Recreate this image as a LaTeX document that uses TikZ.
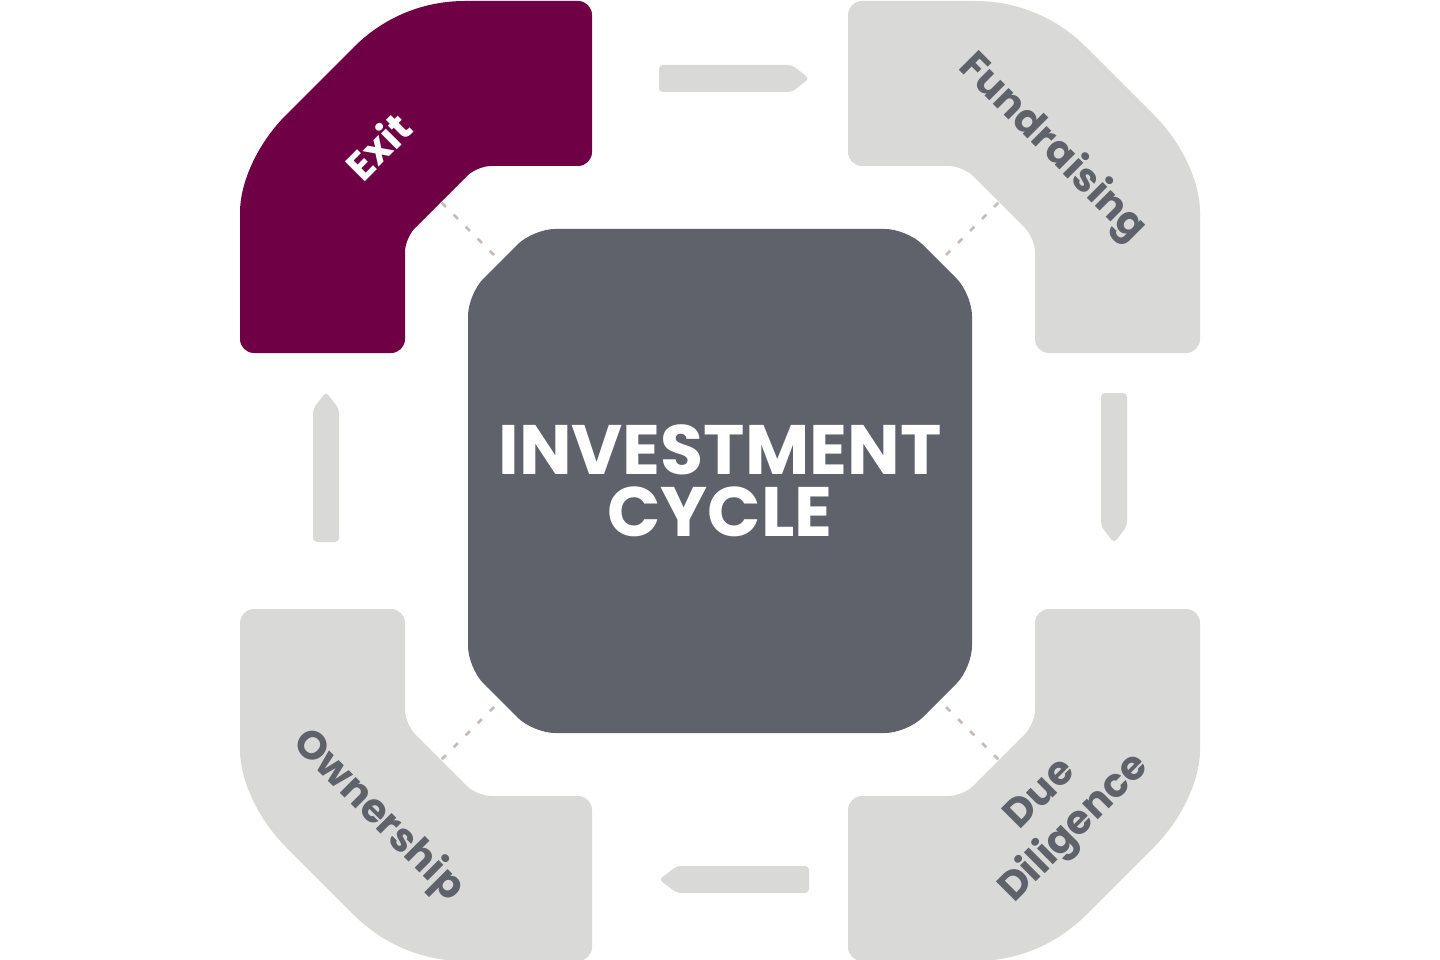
\documentclass[tikz,border=0pt]{standalone}
\usepackage{fontspec}
\setmainfont{Poppins}
\usetikzlibrary{positioning}
\definecolor{exitpurple}{RGB}{112,0,70}
\definecolor{stagegray}{RGB}{217,217,215}
\definecolor{hubgray}{RGB}{95,98,106}
\definecolor{dashgray}{RGB}{196,190,186}
\tikzset{
  stageshape/.pic={
    \path[pic actions] (-200,-480) [rounded corners=14pt] -- (-128,-480) -- (-128,-315)
      -- (-243,-315) -- (-315,-243) -- (-315,-128) -- (-480,-128) -- (-480,-255)
      [sharp corners] .. controls (-480,-297) and (-463.7,-336.3) .. (-434,-366) -- (-366,-434)
      .. controls (-336.3,-463.7) and (-297,-480) .. (-255,-480) -- cycle;
  },
  stagelabel/.style={font=\bfseries\fontsize{40}{48}\selectfont, text=hubgray, align=center},
  hublabel/.style={font=\bfseries\fontsize{70}{62}\selectfont, text=white, align=center},
  link/.style={dashgray, line width=2.6pt, dash pattern=on 6pt off 11pt},
  flow/.style={fill=stagegray, rounded corners=4pt}
}
\begin{document}
\begin{tikzpicture}[x=1pt, y=-1pt]
\fill[white] (0,0) rectangle (1440,960);
\useasboundingbox (0,0) rectangle (1440,960);
\pic[fill=exitpurple] at (720,481) {stageshape};
\pic[fill=stagegray, xscale=-1] at (720,481) {stageshape};
\pic[fill=stagegray, yscale=-1] at (720,481) {stageshape};
\pic[fill=stagegray, scale=-1] at (720,481) {stageshape};
\fill[hubgray, rounded corners=22pt] (468,294) -- (533,229) -- (907,229) -- (972,294)
  -- (972,668) -- (907,733) -- (533,733) -- (468,668) -- cycle;
\node[hublabel] (hub) at (720,481) {INVESTMENT\\CYCLE};
\node[stagelabel, text=white, rotate=45] (exit) at (378,146) {Exit};
\node[stagelabel, rotate=-45] (fund) at (1052,148) {Fundraising};
\node[stagelabel, rotate=-45] (own) at (378,816) {Ownership};
\node[stagelabel, rotate=45] (dd) at (1059,813) {Due\\Diligence};
\coordinate (hubNW) at (494,255);
\coordinate (hubNE) at (946,255);
\coordinate (hubSW) at (494,707);
\coordinate (hubSE) at (946,707);
\coordinate (exitIn) at (441,202);
\coordinate (fundIn) at (999,202);
\coordinate (ownIn) at (441,760);
\coordinate (ddIn) at (999,760);
\draw[link] (hubNW) -- (exitIn);
\draw[link] (hubNE) -- (fundIn);
\draw[link] (hubSW) -- (ownIn);
\draw[link] (hubSE) -- (ddIn);
\fill[flow] (659,65) -- (792,65) -- (809,78.5) -- (792,92) -- (659,92) -- cycle;
\fill[flow] (1101,393) -- (1127,393) -- (1127,526) -- (1114,543) -- (1101,526) -- cycle;
\fill[flow] (809,866) -- (677,866) -- (659,879.5) -- (677,893) -- (809,893) -- cycle;
\fill[flow] (313,542) -- (313,409) -- (326,392) -- (339,409) -- (339,542) -- cycle;
\end{tikzpicture}
\end{document}
